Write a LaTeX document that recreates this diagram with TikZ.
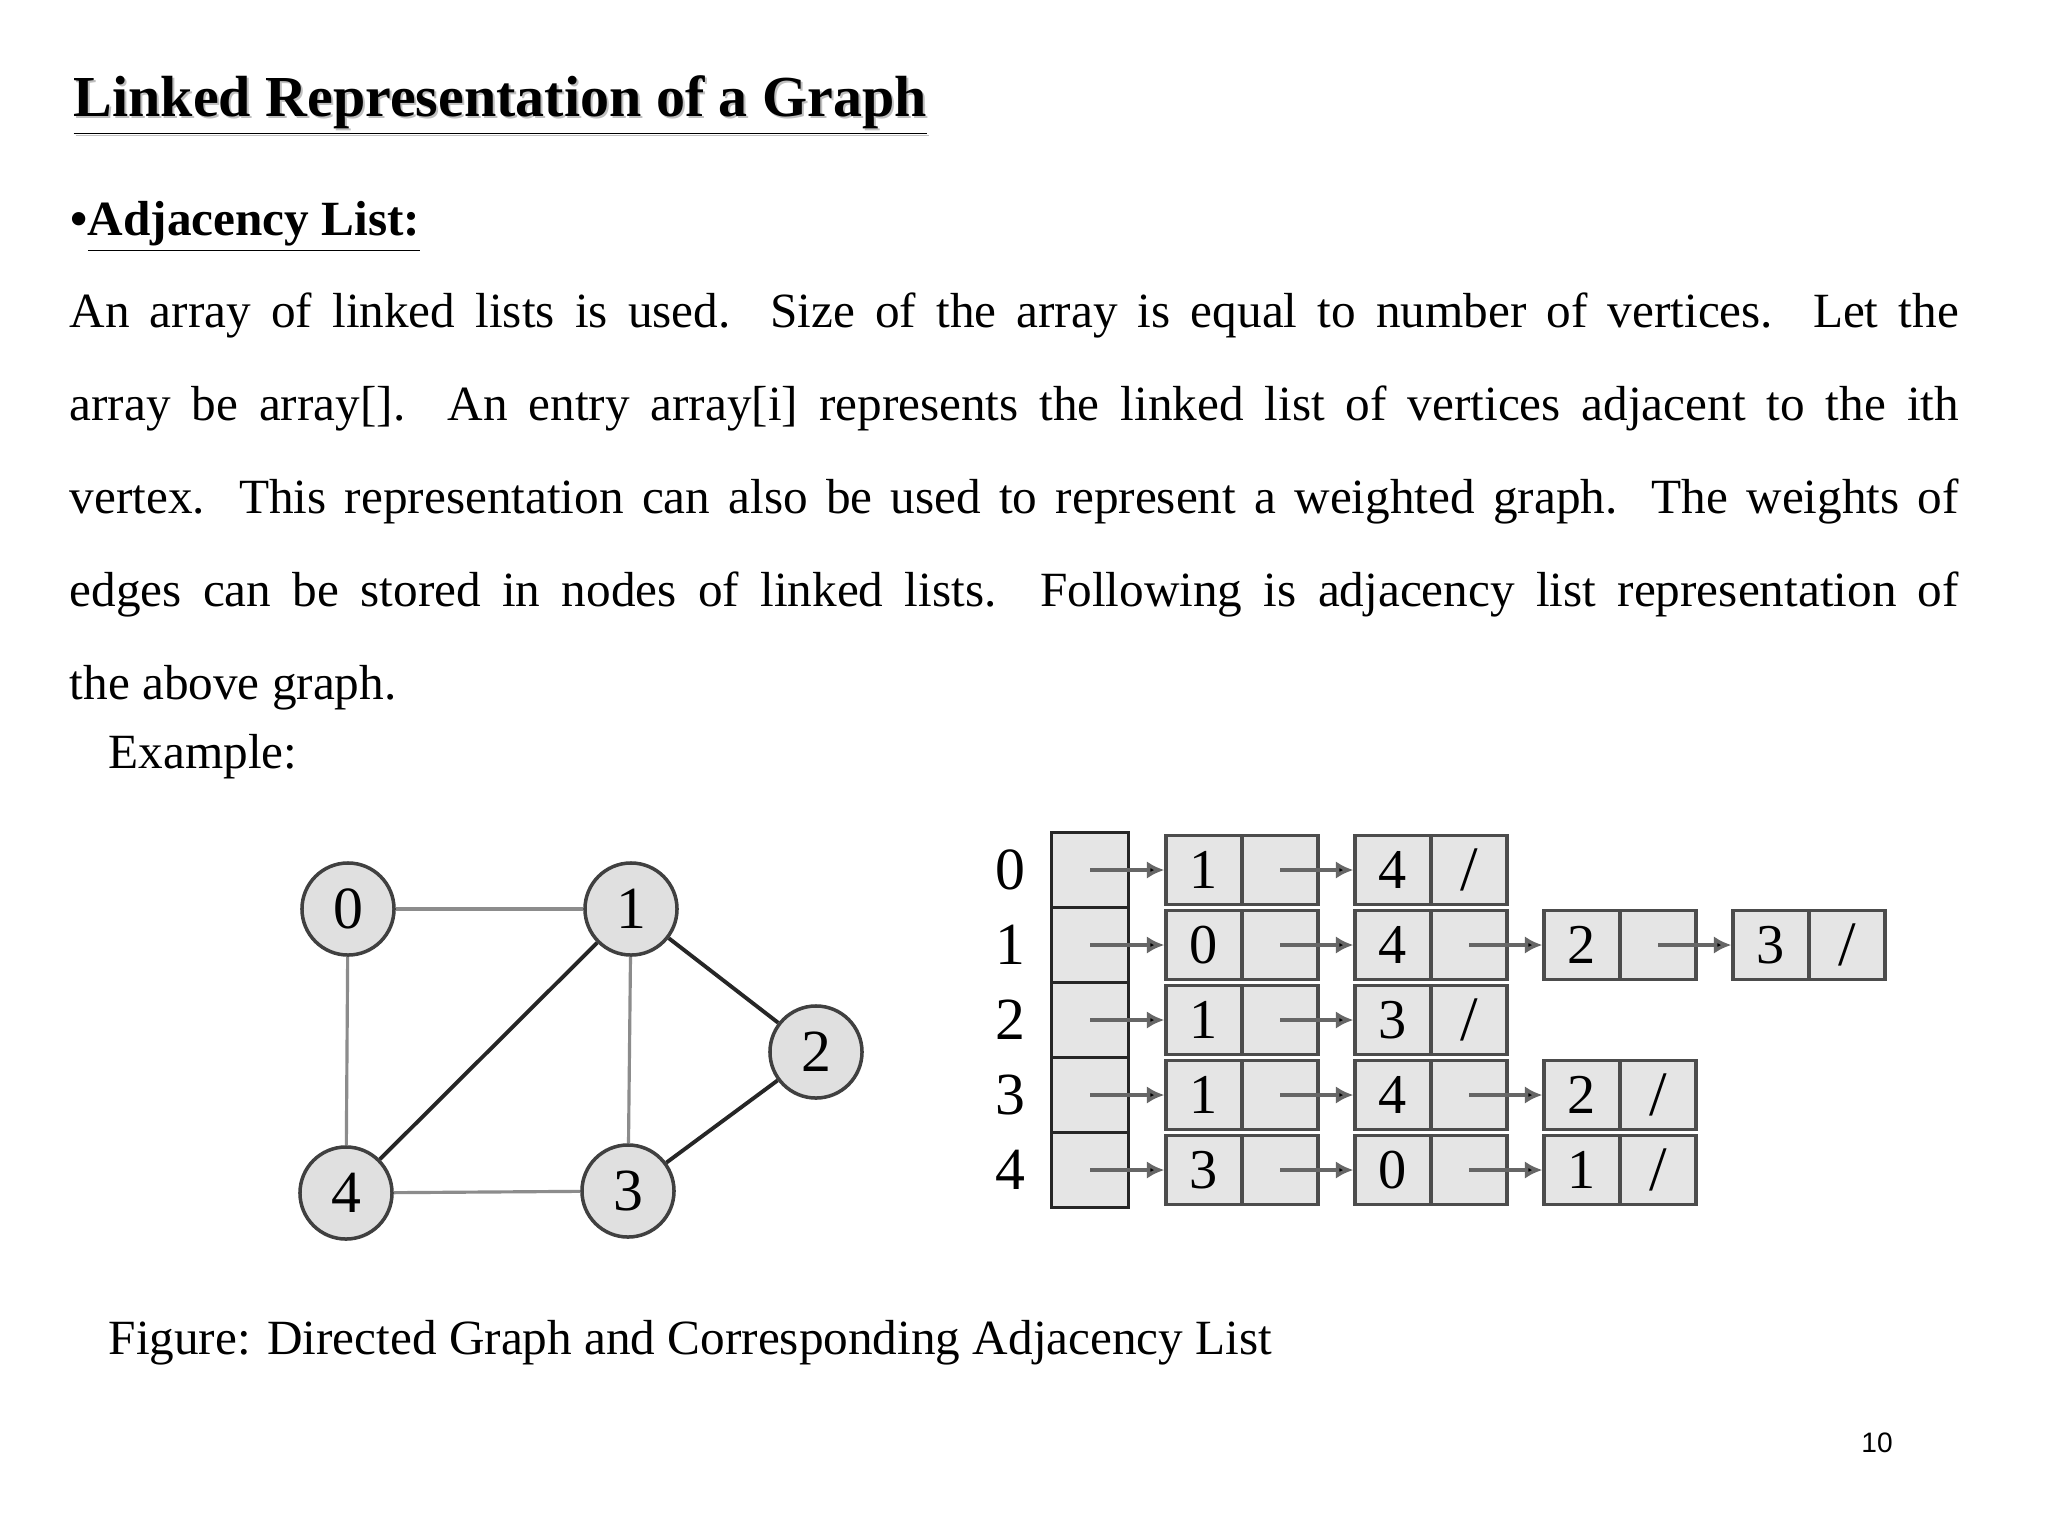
\documentclass[tikz,border=0pt]{standalone}
\usepackage{fontspec}
\setmainfont{Liberation Serif}
\setsansfont{Liberation Sans}
\usetikzlibrary{arrows.meta}
\begin{document}
\begin{tikzpicture}[x=0.01cm,y=-0.01cm,
  vert/.style={circle,draw=black!75,fill=black!12,line width=1pt,minimum size=0.92cm,inner sep=0pt,font=\fontsize{17}{17}\selectfont},
  vedge/.style={draw=black!45,line width=0.9pt},
  dedge/.style={draw=black!85,line width=1.1pt},
  cell/.style={draw=black!70,fill=black!10,line width=0.9pt,minimum width=0.76cm,minimum height=0.69cm,inner sep=0pt,font=\fontsize{16}{16}\selectfont},
  lnk/.style={draw=black!60,line width=1pt,-{Latex[length=5pt,width=5pt,fill=black]}},
  body/.style={anchor=base west,inner sep=0pt,font=\fontsize{14}{14}\selectfont}]
\useasboundingbox (0,0) rectangle (2048,1536);
\fill[white] (0,0) rectangle (2048,1536);
% title
\node[body,font=\fontsize{16.5}{16.5}\selectfont\bfseries,text=black!25] at (75,118) {\underline{Linked Representation of a Graph}};
\node[body,font=\fontsize{16.5}{16.5}\selectfont\bfseries] (title) at (73,116) {\underline{Linked Representation of a Graph}};
\node[body,font=\fontsize{14}{14}\selectfont\bfseries] (sub) at (70,235) {\textbullet\underline{Adjacency List:}};
\node[body,anchor=base west] (para) at (69,327) {\parbox[t]{18.88cm}{\fontsize{14}{26.5pt}\selectfont\hyphenpenalty=10000
An array of linked lists is used. Size of the array is equal to number of vertices. Let the\linebreak
array be array[]. An entry array[i] represents the linked list of vertices adjacent to the ith\linebreak
vertex. This representation can also be used to represent a weighted graph. The weights of\linebreak
edges can be stored in nodes of linked lists. Following is adjacency list representation of\linebreak
the above graph.}};
\node[body] (ex) at (108,768) {Example:};
\node[body] (cap) at (108,1354) {Figure: Directed Graph and Corresponding Adjacency List};
\node[body,font=\sffamily\fontsize{8}{8}\selectfont,anchor=base] (pg) at (1877,1452) {10};
% graph
\node[vert] (v0) at (348,909) {0};
\node[vert] (v1) at (631,909) {1};
\node[vert] (v2) at (816,1052) {2};
\node[vert] (v3) at (628,1191) {3};
\node[vert] (v4) at (346,1193) {4};
\draw[vedge] (v0)--(v1); \draw[vedge] (v0)--(v4); \draw[vedge] (v1)--(v3); \draw[vedge] (v4)--(v3);
\draw[dedge] (v1)--(v4); \draw[dedge] (v1)--(v2); \draw[dedge] (v3)--(v2);
% array
\foreach \i/\y in {0/870,1/945,2/1020,3/1095,4/1170}{
  \node[draw=black!85,fill=black!10,line width=1pt,minimum width=0.77cm,minimum height=0.75cm,inner sep=0pt] (a\i) at (1090,\y) {};
  \node[font=\fontsize{17}{17}\selectfont] (l\i) at (1010,\y) {\i};
}
\newcommand\lnode[4]{%
  \pgfmathsetmacro\xl{1166+189*#2}%
  \pgfmathsetmacro\y{870+75*#1}%
  \node[cell] (n#1#2a) at (\xl+38,\y) {#3};
  \node[cell] (n#1#2b) at (\xl+114,\y) {\ifnum#4=1 {\fontsize{18}{18}\selectfont/}\fi};
}
\lnode{0}{0}{1}{0}\lnode{0}{1}{4}{1}
\lnode{1}{0}{0}{0}\lnode{1}{1}{4}{0}\lnode{1}{2}{2}{0}\lnode{1}{3}{3}{1}
\lnode{2}{0}{1}{0}\lnode{2}{1}{3}{1}
\lnode{3}{0}{1}{0}\lnode{3}{1}{4}{0}\lnode{3}{2}{2}{1}
\lnode{4}{0}{3}{0}\lnode{4}{1}{0}{0}\lnode{4}{2}{1}{1}
\foreach \i in {0,...,4}{ \draw[lnk] (a\i.center)--(n\i0a.west); }
\foreach \s/\t in {00/01,10/11,11/12,12/13,20/21,30/31,31/32,40/41,41/42}{
  \draw[lnk] (n\s b.center)--(n\t a.west);
}
\end{tikzpicture}
\end{document}
